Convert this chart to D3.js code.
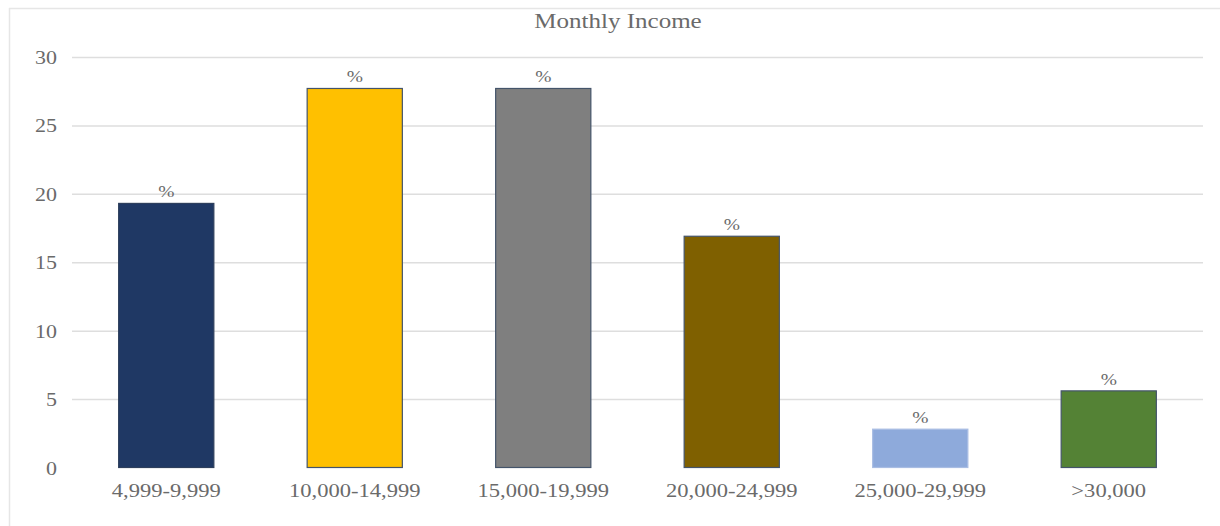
<!DOCTYPE html>
<html>
<head>
<meta charset="utf-8">
<script src="https://cdn.jsdelivr.net/npm/d3@7"></script>
<style>
  html, body { margin: 0; padding: 0; background: #fff; }
  svg { display: block; }
  text { font-family: "Liberation Serif", "Times New Roman", serif; fill: #6a6a6a; }
</style>
</head>
<body>
<svg id="chart" width="1220" height="526"></svg>
<script>
// Share of respondents by monthly income bracket (%)
const categories = ["4,999-9,999", "10,000-14,999", "15,000-19,999", "20,000-24,999", "25,000-29,999", ">30,000"];
const values = [19.3, 27.7, 27.7, 16.9, 2.8, 5.6];
const colors = ["#1f3864", "#ffc000", "#7f7f7f", "#7f6000", "#8eaadb", "#548235"];
const strokes = ["#2e3f5c", "#44546a", "#44546a", "#44546a", "#a9bde3", "#44546a"];
const yTicks = [0, 5, 10, 15, 20, 25, 30];
const titleText = "Monthly Income";
const valueLabel = "%";

const svg = d3.select("#chart");
const W = 1220, H = 526;
const plot = { left: 72, right: 1203, top: 57, bottom: 467.5 };
const SX = 1.22; // horizontal stretch of the lettering

// chart frame
svg.append("line").attr("x1", 9).attr("x2", W).attr("y1", 8.5).attr("y2", 8.5)
  .attr("stroke", "#e6e6e6").attr("stroke-width", 1.5);
svg.append("line").attr("x1", 9.5).attr("x2", 9.5).attr("y1", 8).attr("y2", H)
  .attr("stroke", "#e6e6e6").attr("stroke-width", 1.5);

const x = d3.scaleBand().domain(categories).range([plot.left, plot.right])
  .paddingInner(0.495).paddingOuter(0.2475);
const y = d3.scaleLinear().domain([0, 30]).range([plot.bottom, plot.top]);

// stretched text helper
function stext(g, tx, ty, str, size, anchor) {
  return g.append("text")
    .attr("transform", `translate(${tx},${ty}) scale(${SX},1)`)
    .attr("text-anchor", anchor)
    .attr("font-size", size)
    .text(str);
}

// gridlines
const yAxis = d3.axisLeft(y).tickValues(yTicks).tickSize(-(plot.right - plot.left)).tickFormat("");
const gy = svg.append("g").attr("transform", `translate(${plot.left},0)`).call(yAxis);
gy.select(".domain").remove();
gy.selectAll(".tick line")
  .attr("stroke", d => d === 0 ? "none" : "#dedede")
  .attr("stroke-width", 1.5);

// y tick labels
const yl = svg.append("g");
yTicks.forEach(t => stext(yl, 57, y(t) + 7, String(t), 18, "end"));

// bars
svg.append("g").selectAll("rect").data(values).join("rect")
  .attr("x", (d, i) => x(categories[i]))
  .attr("y", d => y(d))
  .attr("width", x.bandwidth())
  .attr("height", d => y(0) - y(d))
  .attr("fill", (d, i) => colors[i])
  .attr("stroke", (d, i) => strokes[i])
  .attr("stroke-width", 1.2);

// value labels
const vl = svg.append("g");
values.forEach((v, i) => {
  stext(vl, x(categories[i]) + x.bandwidth() / 2, y(v) - 6, valueLabel, 16, "middle");
});

// category labels
const xl = svg.append("g");
categories.forEach(c => stext(xl, x(c) + x.bandwidth() / 2, 497, c, 18.5, "middle"));

// title
stext(svg, 618, 28, titleText, 20.5, "middle");
</script>
</body>
</html>
